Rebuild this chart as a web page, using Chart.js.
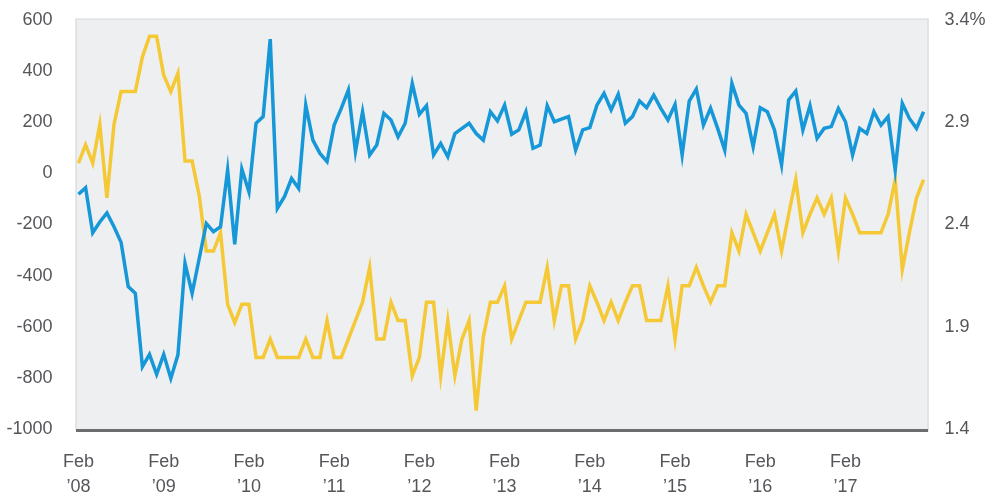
<!DOCTYPE html>
<html>
<head>
<meta charset="utf-8">
<script src="https://cdn.jsdelivr.net/npm/chart.js@4.4.1/dist/chart.umd.min.js"></script>
<style>
html,body{margin:0;padding:0;background:#ffffff;}
#wrap{position:relative;width:989px;height:497px;}
</style>
</head>
<body>
<div id="wrap"><canvas id="c" width="989" height="497"></canvas></div>
<script>
// Monthly observations, Feb 2008 – Jan 2018
const startYear = 2008, startMonth = 1; // Feb (0-based)
const monthCount = 120;

// Monthly payroll change (thousands) – left axis
const payrolls = [
  -82, -56, -232, -190, -155, -209, -270, -443, -469, -756, -708, -786,
  -708, -802, -710, -352, -469, -333, -196, -228, -209, 13, -278, 17,
  -72, 196, 222, 525, -137, -91, -20, -59, 267, 130, 78, 46,
  189, 254, 326, 85, 241, 72, 111, 235, 209, 143, 196, 352,
  231, 265, 72, 117, 65, 156, 176, 196, 156, 130, 241, 205,
  267, 153, 170, 241, 98, 111, 265, 202, 212, 222, 91, 170,
  179, 267, 313, 248, 309, 196, 222, 283, 257, 306, 254, 209,
  270, 72, 283, 330, 189, 255, 176, 91, 352, 267, 235, 104,
  257, 241, 170, 33, 287, 322, 170, 265, 137, 176, 183, 254,
  202, 72, 176, 156, 241, 189, 222, 13, 274, 215, 176, 241
];

// Year-over-year wage growth (%) – right axis
const wageGrowth = [
  2.70, 2.79, 2.70, 2.89, 2.53, 2.89, 3.05, 3.05, 3.05, 3.22, 3.32, 3.32,
  3.13, 3.05, 3.14, 2.71, 2.71, 2.54, 2.27, 2.27, 2.36, 2.01, 1.92, 2.01,
  2.01, 1.75, 1.75, 1.84, 1.75, 1.75, 1.75, 1.75, 1.84, 1.75, 1.75, 1.93,
  1.75, 1.75, 1.84, 1.93, 2.02, 2.19, 1.84, 1.84, 2.02, 1.93, 1.93, 1.66,
  1.75, 2.02, 2.02, 1.66, 1.93, 1.66, 1.84, 1.93, 1.49, 1.85, 2.02, 2.02,
  2.10, 1.84, 1.93, 2.02, 2.02, 2.02, 2.19, 1.93, 2.10, 2.10, 1.84, 1.93,
  2.10, 2.02, 1.93, 2.02, 1.93, 2.02, 2.10, 2.10, 1.93, 1.93, 1.93, 2.10,
  1.84, 2.10, 2.10, 2.19, 2.10, 2.02, 2.10, 2.10, 2.36, 2.27, 2.45, 2.36,
  2.27, 2.36, 2.45, 2.27, 2.45, 2.62, 2.36, 2.45, 2.53, 2.45, 2.53, 2.27,
  2.53, 2.45, 2.36, 2.36, 2.36, 2.36, 2.45, 2.62, 2.18, 2.36, 2.53, 2.62
];

const xTickLabels = [
  ["Feb", "\u201908"], ["Feb", "\u201909"], ["Feb", "\u201910"], ["Feb", "\u201911"], ["Feb", "\u201912"],
  ["Feb", "\u201913"], ["Feb", "\u201914"], ["Feb", "\u201915"], ["Feb", "\u201916"], ["Feb", "\u201917"]
];
const leftTicks = [-1000, -800, -600, -400, -200, 0, 200, 400, 600];
const rightTicks = [1.4, 1.9, 2.4, 2.9, 3.4];

const categories = [];
for (let k = 0; k < monthCount; k++) {
  const m = (startMonth + k) % 12;
  const y = startYear + Math.floor((startMonth + k) / 12);
  categories.push(y + "-" + String(m + 1).padStart(2, "0"));
}

const FONT = "'Liberation Sans', Arial, sans-serif";
const TXT = "#55565a";

const plotBg = {
  id: "plotBg",
  beforeDraw(chart) {
    const a = chart.chartArea, ctx = chart.ctx;
    const L = a.left - 2.5, R = a.right + 4.5, T = a.top - 1, B = a.bottom + 1;
    ctx.save();
    ctx.fillStyle = "#eeeff0";
    ctx.fillRect(L, T, R - L, B - T);
    ctx.strokeStyle = "#d6d7d8";
    ctx.lineWidth = 1.2;
    ctx.beginPath();
    ctx.moveTo(L, B); ctx.lineTo(L, T); ctx.lineTo(R, T); ctx.lineTo(R, B);
    ctx.stroke();
    ctx.restore();
  },
  afterDatasetsDraw(chart) {
    const a = chart.chartArea, ctx = chart.ctx;
    ctx.save();
    ctx.strokeStyle = "#6b6d70";
    ctx.lineWidth = 3;
    ctx.beginPath();
    ctx.moveTo(a.left - 2.5, a.bottom + 1.5);
    ctx.lineTo(a.right + 4.5, a.bottom + 1.5);
    ctx.stroke();
    ctx.restore();
  }
};

function fixY(width) {
  return function (s) { s.width = width; s.paddingTop = 0; s.paddingBottom = 0; };
}

new Chart(document.getElementById("c"), {
  type: "line",
  data: {
    labels: categories,
    datasets: [
      {
        label: "Payrolls",
        data: payrolls,
        yAxisID: "yL",
        borderColor: "#1597d8",
        borderWidth: 3.5,
        pointRadius: 0,
        tension: 0,
        borderJoinStyle: "miter",
        order: 0
      },
      {
        label: "Wage growth",
        data: wageGrowth,
        yAxisID: "yR",
        borderColor: "#f5c936",
        borderWidth: 3.5,
        pointRadius: 0,
        tension: 0,
        borderJoinStyle: "miter",
        order: 1
      }
    ]
  },
  options: {
    responsive: false,
    animation: false,
    devicePixelRatio: 1,
    layout: { padding: { top: 20, bottom: 0, left: 0, right: 0 } },
    plugins: { legend: { display: false }, tooltip: { enabled: false } },
    scales: {
      x: {
        type: "category",
        offset: false,
        grid: { display: false, drawTicks: false },
        border: { display: false },
        afterFit(s) { s.height = 68; s.paddingLeft = 0; s.paddingRight = 0; },
        ticks: {
          autoSkip: false,
          maxRotation: 0,
          padding: 21,
          color: TXT,
          font: { family: FONT, size: 18, lineHeight: 1.39 },
          callback(v, i) { return i % 12 === 0 ? xTickLabels[i / 12] : null; }
        }
      },
      yL: {
        type: "linear",
        position: "left",
        min: leftTicks[0],
        max: leftTicks[leftTicks.length - 1],
        grid: { display: false, drawTicks: false },
        border: { display: false },
        afterFit: fixY(78.5),
        afterBuildTicks(s) { s.ticks = leftTicks.map(v => ({ value: v })); },
        ticks: {
          padding: 26,
          color: TXT,
          font: { family: FONT, size: 18 },
          callback(v) { return String(v); }
        }
      },
      yR: {
        type: "linear",
        position: "right",
        min: rightTicks[0],
        max: rightTicks[rightTicks.length - 1],
        grid: { display: false, drawTicks: false },
        border: { display: false },
        afterFit: fixY(65.4),
        afterBuildTicks(s) { s.ticks = rightTicks.map(v => ({ value: v })); },
        ticks: {
          padding: 21,
          color: TXT,
          font: { family: FONT, size: 18 },
          callback(v) { return v === 3.4 ? v.toFixed(1) + "%" : v.toFixed(1); }
        }
      }
    }
  },
  plugins: [plotBg]
});
</script>
</body>
</html>
